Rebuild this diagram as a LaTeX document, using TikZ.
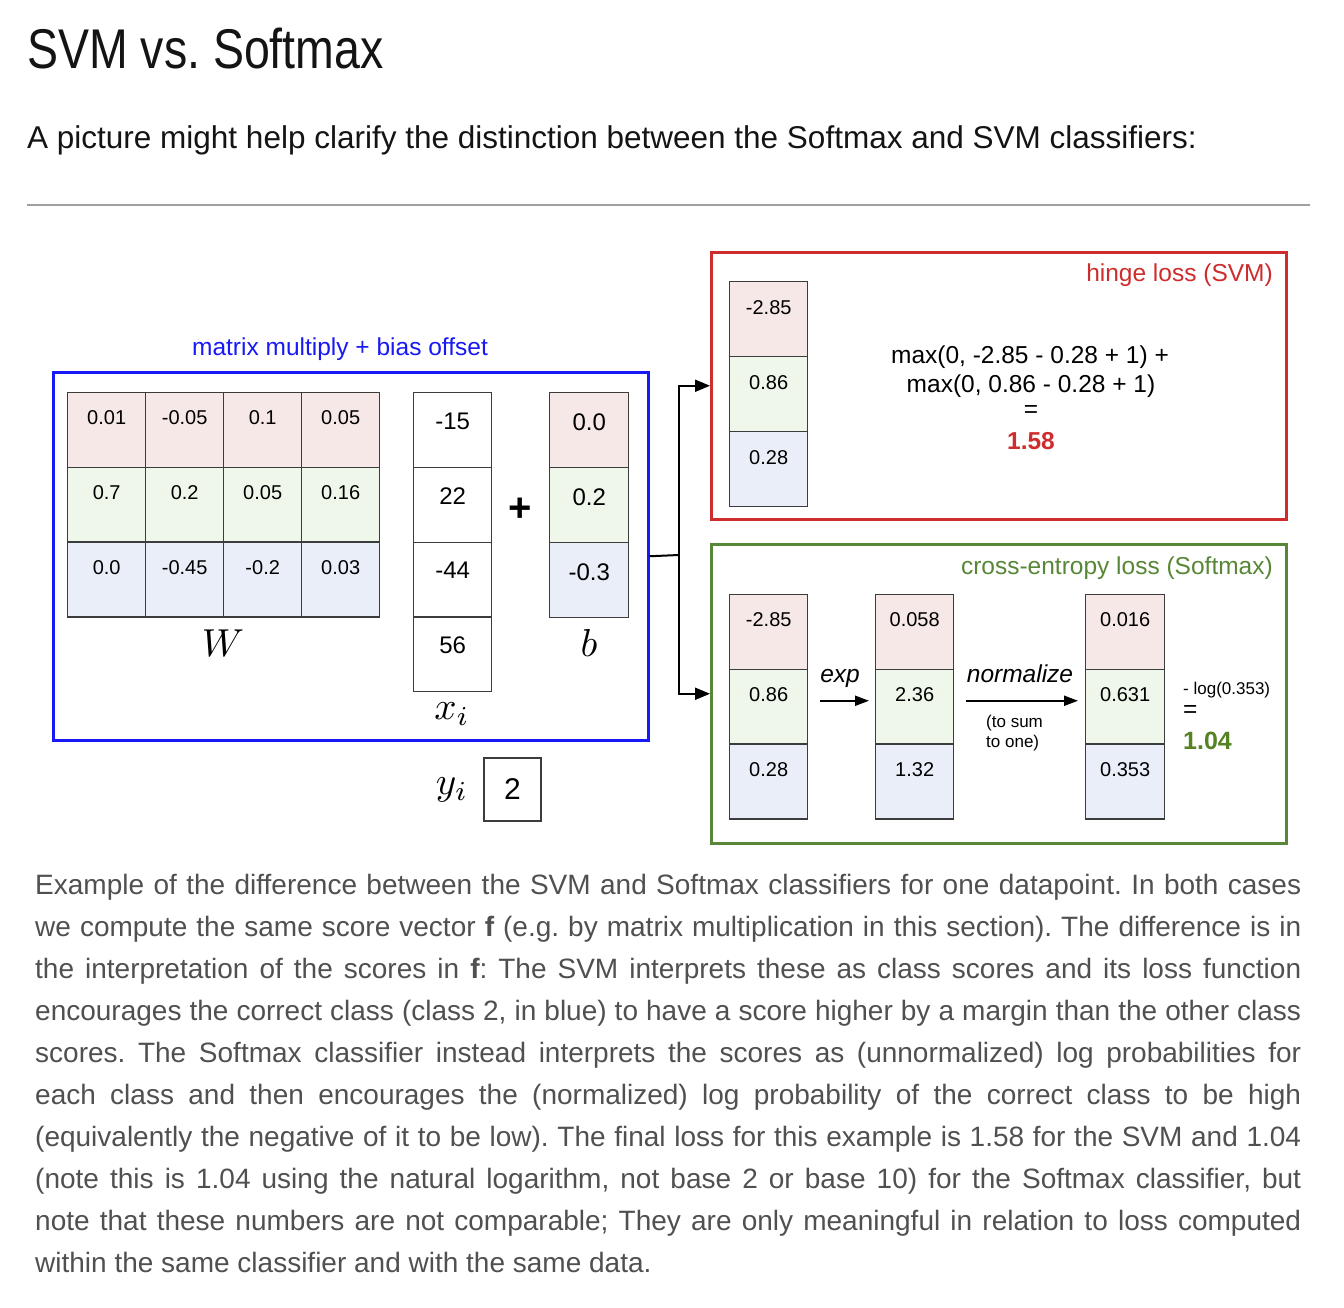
\documentclass[tikz,border=0pt]{standalone}
\usepackage{fontspec}
\setmainfont{Liberation Sans}
\newfontfamily\titlefont[FakeStretch=0.83]{Liberation Sans}
\usetikzlibrary{arrows.meta}
\newcommand{\fsz}[1]{\fontsize{#1}{#1}\selectfont}
\newcommand{\bigmath}[1]{\scalebox{3.9}{\normalsize$#1$}}
\definecolor{pinkc}{RGB}{246,232,230}
\definecolor{greenc}{RGB}{238,247,233}
\definecolor{bluec}{RGB}{233,238,249}
\definecolor{cellb}{RGB}{60,60,60}
\definecolor{mmblue}{RGB}{25,25,245}
\definecolor{svmred}{RGB}{205,45,45}
\definecolor{smgreen}{RGB}{88,135,55}
\definecolor{onegreen}{RGB}{85,130,35}
\definecolor{capgray}{RGB}{80,80,80}
\definecolor{rulegray}{RGB}{160,160,160}
\definecolor{titleblack}{RGB}{20,20,20}
\frenchspacing
\begin{document}
\begin{tikzpicture}[x=1pt,y=-1pt,
  cell/.style={draw=cellb,line width=1.4pt,minimum width=78pt,inner sep=0pt,anchor=north west,
    text height=32.2pt,text depth=42.5pt,font=\fsz{20}},
  bigcell/.style={cell,font=\fsz{24}},
  mathlbl/.style={inner sep=0pt,anchor=center},
  frame/.style={line width=2.5pt,anchor=north west,inner sep=0pt},
  conn/.style={line width=2pt,black},
  bigtip/.style={-{Triangle[length=15pt,width=12pt]}},
  smalltip/.style={-{Triangle[length=14pt,width=10pt]}},
  capline/.style={anchor=base west,inner sep=0pt,font=\fsz{28}\frenchspacing,text=capgray},
  diag/.style={inner sep=0pt,font=\fsz{24.5}}
]
\useasboundingbox (0,0) rectangle (1344,1308);
\fill[white] (0,0) rectangle (1344,1308);

% header
\node[anchor=base west,inner sep=0pt,font=\titlefont\fsz{56},text=titleblack] (title) at (27,69) {SVM vs. Softmax};
\node[anchor=base west,inner sep=0pt,font=\fsz{31.5},text=titleblack] (subtitle) at (27,149) {A picture might help clarify the distinction between the Softmax and SVM classifiers:};
\draw[rulegray,line width=2pt] (27,205) -- (1310,205);

% matrix multiply box
\node[frame,draw=mmblue,minimum width=595pt,minimum height=368pt] (mm) at (52,371) {};
\node[diag,anchor=mid,text=mmblue] (mmlbl) at (340,353) {matrix multiply + bias offset};

% W
\foreach \c/\r/\v/\fc in {1/1/0.01/pinkc,2/1/-0.05/pinkc,3/1/0.1/pinkc,4/1/0.05/pinkc,
  1/2/0.7/greenc,2/2/0.2/greenc,3/2/0.05/greenc,4/2/0.16/greenc,
  1/3/0.0/bluec,2/3/-0.45/bluec,3/3/-0.2/bluec,4/3/0.03/bluec}
  \node[cell,fill=\fc] (w\r\c) at ({67+78*(\c-1)},{392+74.7*(\r-1)}) {\v};
\node[mathlbl] (wlbl) at (223,643) {\bigmath{W}};

% x_i
\foreach \r/\v in {1/-15,2/22,3/-44,4/56}
  \node[bigcell,fill=white,text height=36.6pt,text depth=38.15pt] (x\r) at (413,{392+74.75*(\r-1)}) {\v};
\node[mathlbl] (xlbl) at (452,714) {\bigmath{x_i}};

% plus
\node[inner sep=0pt,font=\bfseries\fsz{40}] (plus) at (520,510) {+};

% b
\foreach \r/\v/\fc in {1/0.0/pinkc,2/0.2/greenc,3/-0.3/bluec}
  \node[bigcell,fill=\fc,minimum width=79pt,text height=37.6pt,text depth=37.15pt] (b\r) at (549,{392+75*(\r-1)}) {\v};
\node[mathlbl] (blbl) at (589,643) {\bigmath{b}};

% y_i
\node[mathlbl] (ylbl) at (452,790) {\bigmath{y_i}};
\node[draw=cellb,line width=1.4pt,minimum width=57pt,minimum height=63pt,inner sep=0pt,font=\fsz{30}] (ybox) at (512.5,789.5) {2};

% SVM box
\node[frame,draw=svmred,minimum width=575pt,minimum height=267pt] (svmbox) at (710,251) {};
\node[diag,anchor=mid east,text=svmred] (svmlbl) at (1273,279) {hinge loss (SVM)};
\foreach \r/\v/\fc in {1/-2.85/pinkc,2/0.86/greenc,3/0.28/bluec}
  \node[cell,fill=\fc,text height=33.2pt,text depth=41.8pt] (s\r) at (729,{281+75*(\r-1)}) {\v};
\node[diag,anchor=mid] (f1) at (1030,361) {max(0, -2.85 - 0.28 + 1) +};
\node[diag,anchor=mid] (f2) at (1031,390) {max(0, 0.86 - 0.28 + 1)};
\node[diag,anchor=mid] (f3) at (1031,415) {=};
\node[diag,anchor=mid,font=\bfseries\fsz{24.5},text=svmred] (f4) at (1031,447) {1.58};

% Softmax box
\node[frame,draw=smgreen,minimum width=575pt,minimum height=299pt] (smbox) at (710,543) {};
\node[diag,anchor=mid east,text=smgreen] (smlbl) at (1273,572) {cross-entropy loss (Softmax)};
\foreach \r/\v/\fc in {1/-2.85/pinkc,2/0.86/greenc,3/0.28/bluec}
  \node[cell,fill=\fc] (v1\r) at (729,{594+74.7*(\r-1)}) {\v};
\foreach \r/\v/\fc in {1/0.058/pinkc,2/2.36/greenc,3/1.32/bluec}
  \node[cell,fill=\fc] (v2\r) at (875,{594+74.7*(\r-1)}) {\v};
\foreach \r/\v/\fc in {1/0.016/pinkc,2/0.631/greenc,3/0.353/bluec}
  \node[cell,fill=\fc,minimum width=79pt] (v3\r) at (1085,{594+74.7*(\r-1)}) {\v};

\node[diag,anchor=mid,font=\itshape\fsz{24.5}] (explbl) at (840,680) {exp};
\node[diag,anchor=mid,font=\itshape\fsz{24.5}] (normlbl) at (1020,680) {normalize};
\node[inner sep=0pt,anchor=mid west,font=\fsz{17}] (tosum1) at (986,725) {(to sum};
\node[inner sep=0pt,anchor=mid west,font=\fsz{17}] (tosum2) at (986,745) {to one)};
\draw[conn,smalltip] ([xshift=12pt,yshift=6pt]v12.east) -- ([xshift=-6pt,yshift=6pt]v22.west);
\draw[conn,smalltip] ([xshift=12pt,yshift=6pt]v22.east) -- ([xshift=-7pt,yshift=6pt]v32.west);

\node[inner sep=0pt,anchor=mid west,font=\fsz{17}] (loglbl) at (1183,692) {- log(0.353)};
\node[diag,anchor=mid west] (eq2) at (1183,715) {=};
\node[diag,anchor=mid west,font=\bfseries\fsz{25},text=onegreen] (res2) at (1183,747) {1.04};

% connectors
\coordinate (split) at (679,555);
\draw[conn] (mm.east) -- (split);
\draw[conn,bigtip] (split) |- (svmbox.west);
\draw[conn,bigtip] (split) |- (smbox.west);

% caption
\node[capline] (c1) at (35,894) {\makebox[1266pt][s]{Example of the difference between the SVM and Softmax classifiers for one datapoint. In both cases}};
\node[capline] (c2) at (35,936) {\makebox[1266pt][s]{we compute the same score vector {\bfseries f} (e.g. by matrix multiplication in this section). The difference is in}};
\node[capline] (c3) at (35,978) {\makebox[1266pt][s]{the interpretation of the scores in {\bfseries f}: The SVM interprets these as class scores and its loss function}};
\node[capline] (c4) at (35,1020) {\makebox[1266pt][s]{encourages the correct class (class 2, in blue) to have a score higher by a margin than the other class}};
\node[capline] (c5) at (35,1062) {\makebox[1266pt][s]{scores. The Softmax classifier instead interprets the scores as (unnormalized) log probabilities for}};
\node[capline] (c6) at (35,1104) {\makebox[1266pt][s]{each class and then encourages the (normalized) log probability of the correct class to be high}};
\node[capline] (c7) at (35,1146) {\makebox[1266pt][s]{(equivalently the negative of it to be low). The final loss for this example is 1.58 for the SVM and 1.04}};
\node[capline] (c8) at (35,1188) {\makebox[1266pt][s]{(note this is 1.04 using the natural logarithm, not base 2 or base 10) for the Softmax classifier, but}};
\node[capline] (c9) at (35,1230) {\makebox[1266pt][s]{note that these numbers are not comparable; They are only meaningful in relation to loss computed}};
\node[capline] (c10) at (35,1272) {within the same classifier and with the same data.};
\end{tikzpicture}
\end{document}
